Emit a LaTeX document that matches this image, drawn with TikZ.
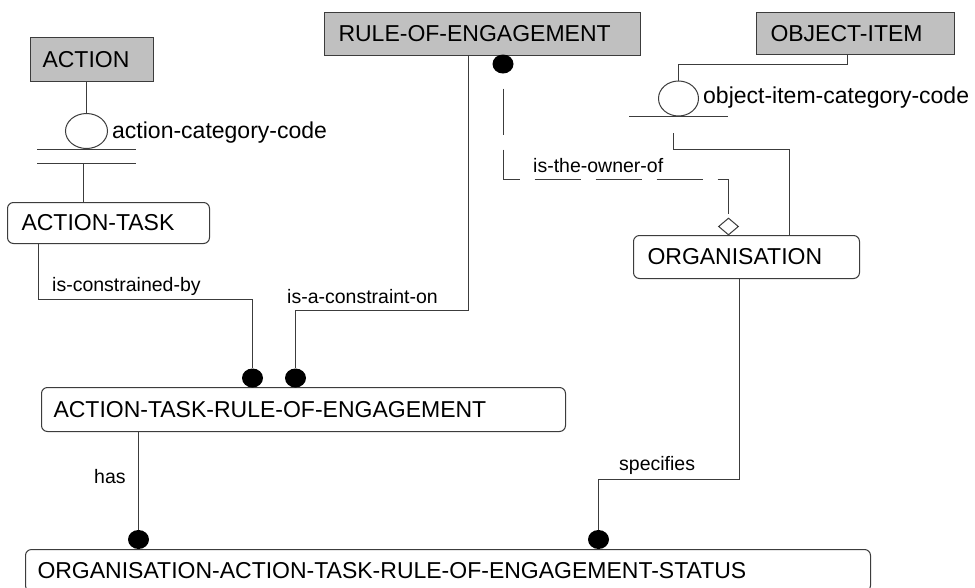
\documentclass[tikz,border=0pt]{standalone}
\usepackage{fontspec}
\setmainfont{Liberation Sans}
\usetikzlibrary{shapes.geometric}
\definecolor{kernelgray}{RGB}{192,192,192}
\definecolor{inkgray}{RGB}{60,60,60}
\begin{document}
\begin{tikzpicture}[x=1pt,y=-1pt,
  namefont/.style={font=\fontsize{23}{27}\selectfont},
  relfont/.style={font=\fontsize{19.5}{23}\selectfont},
  kernel/.style={draw=inkgray, line width=1pt, fill=kernelgray, anchor=north west,
    inner ysep=0pt, align=left, namefont},
  entity/.style={draw=inkgray, line width=1pt, fill=white, rounded corners=6pt,
    anchor=north west, inner ysep=0pt, align=left, namefont},
  attr/.style={draw=inkgray, line width=1pt, ellipse, inner sep=0pt},
  dot/.style={ellipse, fill=black, minimum width=21pt, minimum height=19pt, inner sep=0pt},
  owner/.style={diamond, draw=inkgray, line width=1pt, fill=white, inner sep=0pt,
    minimum width=20pt, minimum height=17pt},
  conn/.style={draw=inkgray, line width=1pt},
  ownerline/.style={conn, dash pattern=on 46pt off 15pt, dash phase=46pt},
  attrlabel/.style={anchor=base west, inner sep=0pt, namefont},
  rellabel/.style={anchor=base west, inner sep=0pt, relfont}]

\clip (0,0) rectangle (975,587);
\fill[white] (0,0) rectangle (975,587);

% independent entities
\node[kernel, minimum height=44pt, text width=99pt, inner xsep=12pt] (action) at (30,37) {ACTION};
\node[kernel, minimum height=43pt, text width=288pt, inner xsep=14pt] (roe) at (324,12) {RULE-OF-ENGAGEMENT};
\node[kernel, minimum height=42pt, text width=170pt, inner xsep=14pt] (oi) at (756,12) {OBJECT-ITEM};

% dependent entities
\node[entity, minimum height=41pt, text width=174pt, inner xsep=14pt] (at) at (7,202) {ACTION-TASK};
\node[entity, minimum height=43pt, text width=198pt, inner xsep=14pt] (org) at (633,235) {ORGANISATION};
\node[entity, minimum height=44pt, text width=500pt, inner xsep=12pt] (atroe) at (41,387) {ACTION-TASK-RULE-OF-ENGAGEMENT};
\node[entity, minimum height=42pt, text width=821pt, inner xsep=12pt] (oatroes) at (25,549) {ORGANISATION-ACTION-TASK-RULE-OF-ENGAGEMENT-STATUS};

% category discriminators
\node[attr, minimum width=42pt, minimum height=35pt] (e1) at (86.5,131) {};
\node[attr, minimum width=40pt, minimum height=35pt] (e2) at (678.5,98.5) {};
\node[attrlabel] (e1lab) at (112,138) {action-category-code};
\node[attrlabel] (e2lab) at (703,103) {object-item-category-code};

% relationship end dots and the ownership diamond
\node[dot] (d1) at (252.5,378) {};
\node[dot] (d2) at (295.5,378) {};
\node[dot] (d3) at (138.5,539.5) {};
\node[dot] (d4) at (598.5,539.5) {};
\node[dot] (d5) at (503,64) {};
\node[owner] (dm) at (728.5,226.5) {};

% bend points
\coordinate (barA1) at (37,149);  \coordinate (barA2) at (136,149);
\coordinate (barB1) at (37,163);  \coordinate (barB2) at (136,163);
\coordinate (atup) at (83,163);
\coordinate (barC1) at (629,116); \coordinate (barC2) at (728,116);
\coordinate (c1) at (38,299);
\coordinate (c2) at (468,310);
\coordinate (c3) at (739,479);
\coordinate (c4) at (847,64);
\coordinate (c5) at (673,133);
\coordinate (c6) at (789,149);
\coordinate (c7) at (503,179);

% ACTION category
\draw[conn] (action.south -| e1.north) -- (e1.north);
\draw[conn] (barA1) -- (barA2);
\draw[conn] (barB1) -- (barB2);
\draw[conn] (atup) -- (atup |- at.north);

% OBJECT-ITEM category
\draw[conn] (c4 |- oi.south) -- (c4) -| (e2.north);
\draw[conn] (barC1) -- (barC2);
\draw[conn] (c5) |- (c6) -- (c6 |- org.north);

% relationships
\draw[conn] (c1 |- at.south) -- (c1) -| (d1.north);
\draw[conn] (c2 |- roe.south) -- (c2) -| (d2.north);
\draw[conn] (d3 |- atroe.south) -- (d3.north);
\draw[conn] (c3 |- org.south) -- (c3) -| (d4.north);
\draw[ownerline] (d5.south) -- (c7) -| (dm.north);

% relationship names
\node[rellabel] (l1) at (52,291) {is-constrained-by};
\node[rellabel] (l2) at (287,303) {is-a-constraint-on};
\node[rellabel] (l3) at (533,172) {is-the-owner-of};
\node[rellabel] (l4) at (94,483) {has};
\node[rellabel] (l5) at (619,470) {specifies};
\end{tikzpicture}
\end{document}
